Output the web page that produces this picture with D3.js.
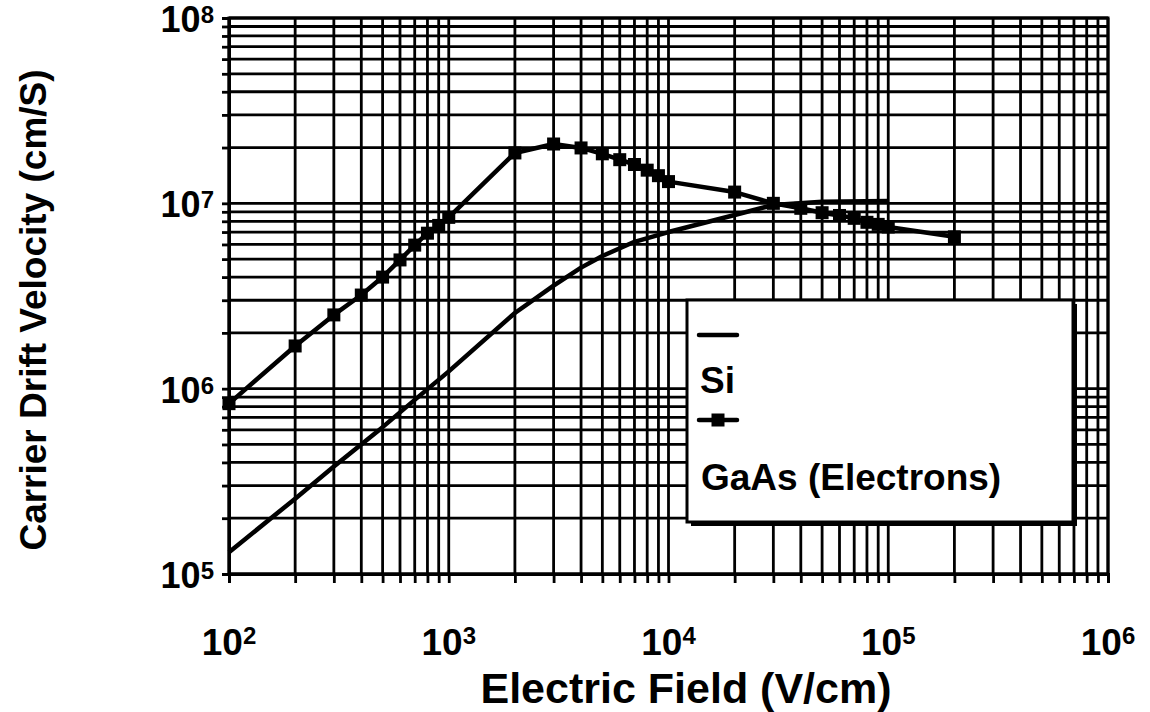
<!DOCTYPE html>
<html>
<head>
<meta charset="utf-8">
<script src="https://cdn.jsdelivr.net/npm/d3@7"></script>
<style>
  html, body { margin: 0; padding: 0; background: #fff; }
  svg { display: block; font-family: "Liberation Sans", Arial, Helvetica, sans-serif; font-weight: bold; }
</style>
</head>
<body>
<div id="mainChart"></div>
<script>
// Si (solid line)
const siField = [100, 200, 300, 500, 700, 1000, 2000, 3000, 4000, 5000, 7000, 10000, 20000, 30000, 50000, 100000];
const siVelocity = [1.31e5, 2.55e5, 3.8e5, 6.2e5, 8.7e5, 1.24e6, 2.56e6, 3.6e6, 4.5e6, 5.2e6, 6.2e6, 7.0e6, 8.65e6, 9.8e6, 1.02e7, 1.03e7];

// GaAs electrons (line + square markers)
const gaasField = [100, 200, 300, 400, 500, 600, 700, 800, 900, 1000, 2000, 3000, 4000, 5000, 6000, 7000, 8000, 9000,
    10000, 20000, 30000, 40000, 50000, 60000, 70000, 80000, 90000, 100000, 200000];
const gaasVelocity = [8.3e5, 1.7e6, 2.5e6, 3.2e6, 4.0e6, 4.95e6, 5.95e6, 6.9e6, 7.6e6, 8.4e6, 1.87e7, 2.09e7, 1.99e7, 1.85e7, 1.72e7, 1.62e7, 1.51e7, 1.41e7,
    1.31e7, 1.15e7, 1.0e7, 9.4e6, 8.9e6, 8.6e6, 8.3e6, 7.9e6, 7.7e6, 7.45e6, 6.6e6];

const xTickExp = [2, 3, 4, 5, 6];
const yTickExp = [5, 6, 7, 8];
const legendLabels = ['Si', 'GaAs (Electrons)'];
const xTitle = 'Electric Field (V/cm)';
const yTitle = 'Carrier Drift Velocity (cm/S)';

const width = 1150;
const height = 712;
const margin = { top: 18, right: 42, bottom: 138, left: 229 };

const svg = d3.select('#mainChart').append('svg')
    .attr('width', width)
    .attr('height', height);

const x = d3.scaleLog()
    .domain([1e2, 1e6])
    .range([margin.left, width - margin.right]);

const y = d3.scaleLog()
    .domain([1e5, 1e8])
    .range([height - margin.bottom, margin.top]);

// minor + major values for the grid
const gridVals = (lo, hi) => {
    const out = [];
    for (let e = lo; e < hi; e++) {
        for (let m = 1; m <= 9; m++) out.push(m * Math.pow(10, e));
    }
    out.push(Math.pow(10, hi));
    return out;
};
const xGrid = gridVals(2, 6);
const yGrid = gridVals(5, 8);

// grid lines
svg.append('g')
    .selectAll('line')
    .data(xGrid)
    .join('line')
    .attr('x1', d => x(d)).attr('x2', d => x(d))
    .attr('y1', margin.top).attr('y2', height - margin.bottom)
    .attr('stroke', '#000')
    .attr('stroke-width', 2.8);

svg.append('g')
    .selectAll('line')
    .data(yGrid)
    .join('line')
    .attr('x1', margin.left).attr('x2', width - margin.right)
    .attr('y1', d => y(d)).attr('y2', d => y(d))
    .attr('stroke', '#000')
    .attr('stroke-width', 2.8);

// axes with outward ticks
const xAxis = g => g
    .attr('transform', `translate(0,${height - margin.bottom})`)
    .call(d3.axisBottom(x).tickValues(xGrid).tickSize(9).tickFormat(''))
    .call(g => g.selectAll('line').attr('stroke-width', 2.8))
    .call(g => g.select('.domain').attr('stroke-width', 3));

const yAxis = g => g
    .attr('transform', `translate(${margin.left},0)`)
    .call(d3.axisLeft(y).tickValues(yGrid).tickSize(7).tickFormat(''))
    .call(g => g.selectAll('line').attr('stroke-width', 2.8))
    .call(g => g.select('.domain').attr('stroke-width', 3));

svg.append('g').call(xAxis);
svg.append('g').call(yAxis);

// frame (top / right)
svg.append('rect')
    .attr('x', margin.left).attr('y', margin.top)
    .attr('width', x(1e6) - margin.left)
    .attr('height', y(1e5) - margin.top)
    .attr('fill', 'none')
    .attr('stroke', '#000')
    .attr('stroke-width', 3);

// tick labels: 10 with superscript
const xLabels = svg.append('g')
    .selectAll('text')
    .data(xTickExp)
    .join('text')
    .attr('x', d => x(Math.pow(10, d)))
    .attr('y', 655)
    .attr('text-anchor', 'middle')
    .attr('font-size', 37);
xLabels.append('tspan').text('10');
xLabels.append('tspan').attr('font-size', 24).attr('dy', -11).text(d => d);

const yLabels = svg.append('g')
    .selectAll('text')
    .data(yTickExp)
    .join('text')
    .attr('x', 214)
    .attr('y', d => y(Math.pow(10, d)) + 14)
    .attr('text-anchor', 'end')
    .attr('font-size', 36);
yLabels.append('tspan').text('10');
yLabels.append('tspan').attr('font-size', 24).attr('dy', -9).text(d => d);

// axis titles
svg.append('text')
    .attr('x', 686)
    .attr('y', 703)
    .attr('text-anchor', 'middle')
    .attr('font-size', 43)
    .text(xTitle);

svg.append('text')
    .attr('transform', 'translate(46,310) rotate(-90)')
    .attr('text-anchor', 'middle')
    .attr('font-size', 37)
    .text(yTitle);

// series
const siData = siField.map((f, i) => ({ f, v: siVelocity[i] }));
const gaasData = gaasField.map((f, i) => ({ f, v: gaasVelocity[i] }));

const line = d3.line()
    .x(d => x(d.f))
    .y(d => y(d.v));

svg.append('path')
    .datum(siData)
    .attr('fill', 'none')
    .attr('stroke', '#000')
    .attr('stroke-width', 4.5)
    .attr('stroke-linejoin', 'round')
    .attr('d', line);

svg.append('path')
    .datum(gaasData)
    .attr('fill', 'none')
    .attr('stroke', '#000')
    .attr('stroke-width', 4.5)
    .attr('stroke-linejoin', 'round')
    .attr('d', line);

const sq = 13;
svg.append('g')
    .selectAll('rect')
    .data(gaasData)
    .join('rect')
    .attr('x', d => x(d.f) - sq / 2)
    .attr('y', d => y(d.v) - sq / 2)
    .attr('width', sq)
    .attr('height', sq)
    .attr('fill', '#000');

// legend with drop shadow
const lg = svg.append('g').attr('transform', 'translate(687,300)');
lg.append('rect')
    .attr('x', 4).attr('y', 4)
    .attr('width', 386).attr('height', 222)
    .attr('fill', '#000');
lg.append('rect')
    .attr('x', 0).attr('y', 0)
    .attr('width', 386).attr('height', 222)
    .attr('fill', '#fff')
    .attr('stroke', '#000')
    .attr('stroke-width', 3);

lg.append('line')
    .attr('x1', 12).attr('x2', 50)
    .attr('y1', 35).attr('y2', 35)
    .attr('stroke', '#000')
    .attr('stroke-width', 4.5)
    .attr('stroke-linecap', 'round');
lg.append('text')
    .attr('x', 13).attr('y', 93)
    .attr('font-size', 37)
    .text(legendLabels[0]);

lg.append('line')
    .attr('x1', 12).attr('x2', 50)
    .attr('y1', 120).attr('y2', 120)
    .attr('stroke', '#000')
    .attr('stroke-width', 4.5)
    .attr('stroke-linecap', 'round');
lg.append('rect')
    .attr('x', 31 - sq / 2).attr('y', 120 - sq / 2)
    .attr('width', sq).attr('height', sq)
    .attr('fill', '#000');
lg.append('text')
    .attr('x', 14).attr('y', 190)
    .attr('font-size', 37)
    .text(legendLabels[1]);
</script>
</body>
</html>
